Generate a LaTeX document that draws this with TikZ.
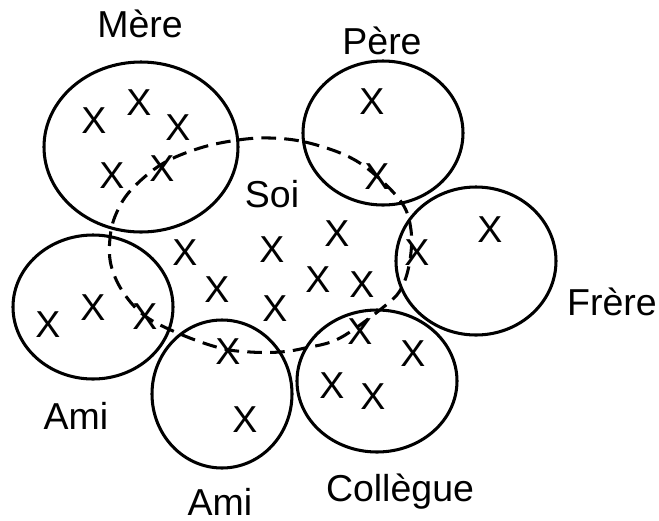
\documentclass[tikz,border=0pt]{standalone}
\usepackage{fontspec}
\setmainfont{Liberation Sans}
\usepackage{tikz}
\usetikzlibrary{calc,positioning}

\tikzset{
	circ/.style={line width=2.6pt},
	soi/.style={line width=2.6pt, dash pattern=on 12.5pt off 7pt},
	xmark/.style={inner sep=0pt},
	lbl/.style={inner sep=0pt, anchor=base}
}

\begin{document}
\begin{tikzpicture}[x=0.03cm, y=-0.03cm, font=\fontsize{32}{38}\selectfont]
	\useasboundingbox (0,0) rectangle (659,520);
	% groupes
	\draw[circ] (141,147) ellipse [x radius=97, y radius=85];
	\draw[circ] (383,133) ellipse [x radius=80, y radius=72];
	\draw[circ] (476,261) ellipse [x radius=80, y radius=74];
	\draw[circ] (93,307) ellipse [x radius=80, y radius=72];
	\draw[circ] (222,394) ellipse [x radius=70, y radius=74];
	\draw[circ] (377,381) ellipse [x radius=80, y radius=71];
	% soi
	\draw[soi] plot[smooth cycle, tension=0.6] coordinates {
		(270,138) (305,142) (345,155) (373,173) (402,203) (411,230)
		(410,260) (402,287) (386,305) (340,338) (305,348) (280,352)
		(250,352) (220,348) (180,334) (145,316) (123,292) (111,265)
		(110,238) (116,214) (131,190) (162,164) (200,148) (238,140)};
	% croix
	\foreach \nom/\pos in {m1/{(94,121)}, m2/{(139,103)}, m3/{(178,128)}, m4/{(112,176)}, m5/{(162,169)},
		p1/{(372,102)}, p2/{(377,177)},
		f1/{(490,230)}, f2/{(417,253)},
		s1/{(185,253)}, s2/{(272,250)}, s3/{(337,234)}, s4/{(217,290)}, s5/{(318,280)}, s6/{(362,285)}, s7/{(275,309)},
		a1/{(48,325)}, a2/{(93,308)}, a3/{(145,317)},
		b1/{(228,352)}, b2/{(245,420)},
		c1/{(360,332)}, c2/{(413,354)}, c3/{(332,386)}, c4/{(373,397)}}
		\node[xmark] (\nom) at \pos {X};
	% noms
	\node[lbl] (mere) at (140,37) {Mère};
	\node[lbl] (pere) at (382,54) {Père};
	\node[lbl] (soitxt) at (272,207) {Soi};
	\node[lbl] (frere) at (612,315) {Frère};
	\node[lbl] (amig) at (76,429) {Ami};
	\node[lbl] (amib) at (220,515) {Ami};
	\node[lbl] (coll) at (400,501) {Collègue};
\end{tikzpicture}
\end{document}
